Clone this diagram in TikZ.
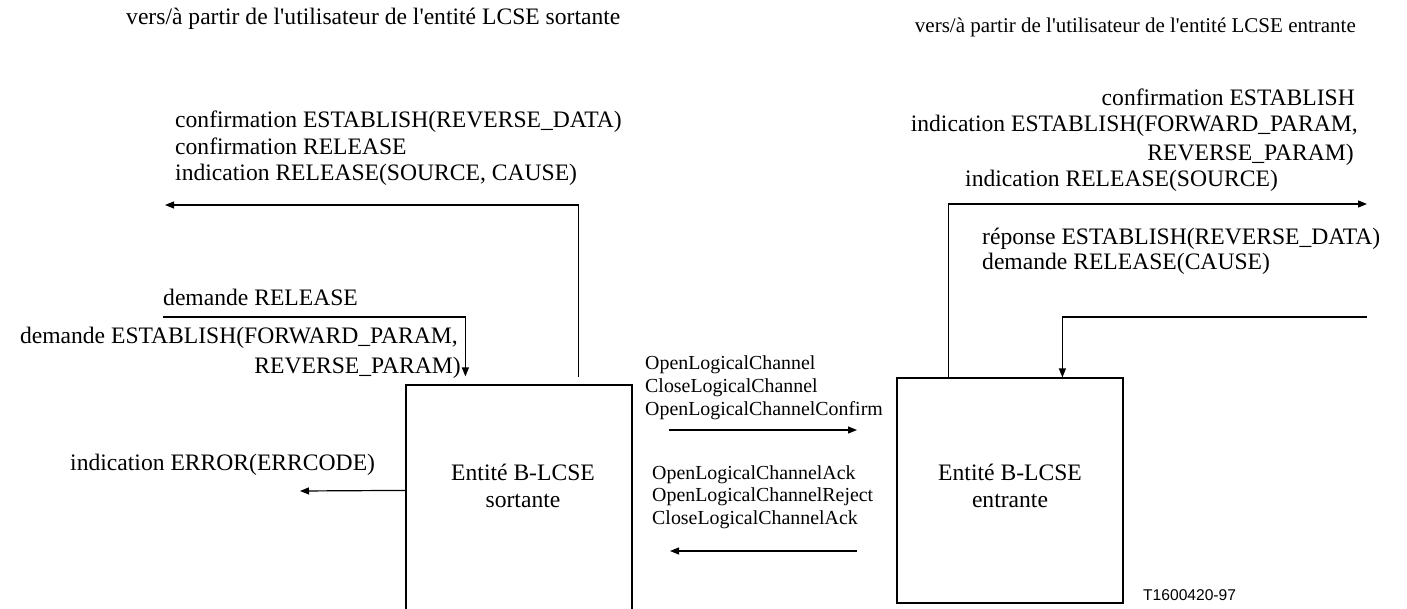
\documentclass[tikz,border=0pt]{standalone}
\usepackage{fontspec}
\setmainfont{Liberation Serif}
\newfontfamily\labelsans{Liberation Sans}
\usetikzlibrary{arrows.meta,calc}
\tikzset{
  big/.style={font=\fontsize{23.6}{27}\selectfont, inner sep=0pt},
  small/.style={font=\fontsize{19.9}{23}\selectfont, inner sep=0pt},
  ln/.style={line width=1.2pt},
  arr/.style={ln, -{Triangle[length=9pt,width=7pt]}},
  entity/.style={draw, line width=1.2pt, inner sep=0pt, minimum width=226pt},
}
\begin{document}
\begin{tikzpicture}[x=1pt,y=-1pt]
\useasboundingbox (0,0) rectangle (1407,609);
% boxes
\node[entity, minimum height=240pt] (lbox) at (519,505) {};
\node[entity, minimum height=225pt] (rbox) at (1010,490.5) {};
% box labels
\node[big, anchor=base] (l1) at (523,480) {Entité B-LCSE};
\node[big, anchor=base] (l2) at (523,507) {sortante};
\node[big, anchor=base] (r1) at (1010,480) {Entité B-LCSE};
\node[big, anchor=base] (r2) at (1010,507) {entrante};
% titles
\node[big, anchor=base west] (tl) at (126,25) {vers/à partir de l\textquotesingle utilisateur de l\textquotesingle entité LCSE sortante};
\node[inner sep=0pt, font=\fontsize{21}{24}\selectfont, anchor=base east] (tr) at (1356,33) {vers/à partir de l\textquotesingle utilisateur de l\textquotesingle entité LCSE entrante};
% left upper
\node[big, anchor=base west] (a1) at (175,128) {confirmation ESTABLISH(REVERSE\_DATA)};
\node[big, anchor=base west] (a2) at (175,155) {confirmation RELEASE};
\node[big, anchor=base west] (a3) at (175,181) {indication RELEASE(SOURCE, CAUSE)};
\coordinate (a0) at ($(lbox.north west)+(173,-7)$);
\coordinate (aend) at (165,205);
\draw[arr] (a0) |- (aend);
% left request
\node[big, anchor=base west] (b1) at (163,306) {demande RELEASE};
\node[big, anchor=base east] (b2) at (458,343) {demande ESTABLISH(FORWARD\_PARAM,};
\node[big, anchor=base east] (b3) at (461,373) {REVERSE\_PARAM)};
\coordinate (b0) at (163,317);
\draw[arr] (b0) -| ($(lbox.north west)+(60,-8)$);
% error
\node[big, anchor=base west] (e1) at (70,470) {indication ERROR(ERRCODE)};
\coordinate (eend) at (300,491);
\draw[arr] ($(lbox.north west)+(0,106)$) -- (eend);
% middle
\node[small, anchor=base west] (m1) at (645,369) {OpenLogicalChannel};
\node[small, anchor=base west] (m2) at (645,392) {CloseLogicalChannel};
\node[small, anchor=base west] (m3) at (645,415) {OpenLogicalChannelConfirm};
\coordinate (f0) at (669,430);
\coordinate (f1) at (857,430);
\draw[arr] (f0) -- (f1);
\node[small, anchor=base west] (n1) at (652,479) {OpenLogicalChannelAck};
\node[small, anchor=base west] (n2) at (652,501) {OpenLogicalChannelReject};
\node[small, anchor=base west] (n3) at (652,524) {CloseLogicalChannelAck};
\coordinate (g0) at (857,551);
\coordinate (g1) at (670,551);
\draw[arr] (g0) -- (g1);
% right upper
\node[big, anchor=base east] (c1) at (1355,106) {confirmation ESTABLISH};
\node[big, anchor=base east] (c2) at (1358,132) {indication ESTABLISH(FORWARD\_PARAM,};
\node[big, anchor=base east] (c3) at (1354,161) {REVERSE\_PARAM)};
\node[big, anchor=base west] (c4) at (965,187) {indication RELEASE(SOURCE)};
\coordinate (cend) at (1367,204);
\draw[arr] ($(rbox.north west)+(52,0)$) |- (cend);
% right response
\node[big, anchor=base west] (d1) at (982,245) {réponse ESTABLISH(REVERSE\_DATA)};
\node[big, anchor=base west] (d2) at (982,270) {demande RELEASE(CAUSE)};
\coordinate (d0) at (1367,317);
\draw[arr] (d0) -| ($(rbox.north west)+(166,0)$);
% figure id
\node[inner sep=0pt, anchor=base west, font=\labelsans\fontsize{15.6}{18}\selectfont] (fid) at (1143,600) {T1600420-97};
\end{tikzpicture}
\end{document}
